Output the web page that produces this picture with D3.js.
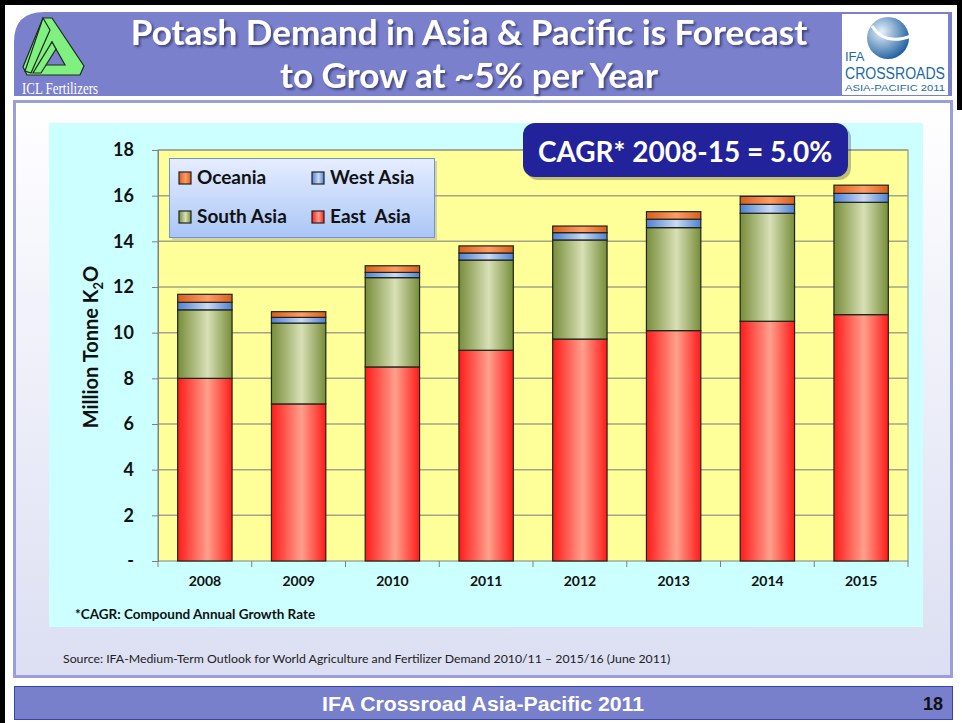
<!DOCTYPE html>
<html lang="en">
<head>
<meta charset="utf-8">
<script src="https://d3js.org/d3.v7.min.js"></script>
<title>Potash Demand in Asia &amp; Pacific</title>
<style>
  body { margin: 0; background: #fff; }
  svg { display: block; }
</style>
</head>
<body>
<svg width="962" height="723"></svg>
<script>
// data (million tonne K2O)
var years = ["2008", "2009", "2010", "2011", "2012", "2013", "2014", "2015"];
var eastAsia  = [8.0, 6.88, 8.5, 9.23, 9.72, 10.09, 10.5, 10.79];
var southAsia = [3.0, 3.54, 3.91, 3.95, 4.34, 4.51, 4.73, 4.92];
var westAsia  = [0.33, 0.25, 0.23, 0.31, 0.32, 0.37, 0.39, 0.39];
var oceania   = [0.35, 0.25, 0.29, 0.31, 0.29, 0.33, 0.35, 0.36];
var seriesNames = ["East  Asia", "South Asia", "West Asia", "Oceania"];
var yTicks = [0, 2, 4, 6, 8, 10, 12, 14, 16, 18];

var svg = d3.select("svg");
var font = "Lato, 'Open Sans', sans-serif";

// ---- slide frame ----
svg.append("rect").attr("x", 0).attr("y", 0).attr("width", 5).attr("height", 723).attr("fill", "#000");
svg.append("rect").attr("x", 0).attr("y", 0).attr("width", 962).attr("height", 5).attr("fill", "#000");
svg.append("rect").attr("x", 957).attr("y", 0).attr("width", 5).attr("height", 110).attr("fill", "#000");

var defs = svg.append("defs");
var shadow = defs.append("filter").attr("id", "shadow").attr("x", "-10%").attr("y", "-30%").attr("width", "120%").attr("height", "160%");
shadow.append("feDropShadow").attr("dx", 2).attr("dy", 2).attr("stdDeviation", 1)
    .attr("flood-color", "#222244").attr("flood-opacity", 0.6);

// title banner
svg.append("path")
    .attr("d", "M14,96 L14,42 Q14,12 44,12 L952,12 L952,96 Z")
    .attr("fill", "#7a80cc");
svg.append("rect").attr("x", 5).attr("y", 96).attr("width", 250).attr("height", 4).attr("fill", "#fff");

// ICL logo
var logo = svg.append("g").attr("stroke", "#1c2a1c").attr("stroke-width", 1.2).attr("fill", "#80f080");
logo.append("path").attr("fill-rule", "evenodd")
    .attr("d", "M43,18 L52,18 L84,66 L80,75 L27,75 L23,67 Z M52,42 L65,65 L40,65 Z");
logo.append("path").attr("d", "M43,18 L50,30 L31,73 L25,71 Z");
logo.append("path").attr("d", "M52,42 L56,49 L41,73 L33,73 Z");
svg.append("text").attr("x", 22).attr("y", 94)
    .attr("fill", "#fff").style("font", "17px 'Liberation Serif', serif")
    .attr("textLength", 76).attr("lengthAdjust", "spacingAndGlyphs")
    .text("ICL Fertilizers");

// title with shadow
var titleLines = ["Potash Demand in Asia & Pacific is Forecast", "to Grow at ~5% per Year"];
svg.append("g").selectAll("text").data(titleLines).enter().append("text")
    .attr("x", 469).attr("y", function(d, i) { return 45 + i * 43; })
    .attr("text-anchor", "middle").attr("fill", "#fff").attr("filter", "url(#shadow)")
    .style("font", "bold 35px " + font).text(function(d) { return d; });

// IFA logo box
svg.append("rect").attr("x", 842).attr("y", 14).attr("width", 106).attr("height", 81).attr("fill", "#fff");
var globe = defs.append("radialGradient").attr("id", "globe").attr("cx", "35%").attr("cy", "35%").attr("r", "70%");
globe.append("stop").attr("offset", 0).attr("stop-color", "#e8f2fb");
globe.append("stop").attr("offset", 1).attr("stop-color", "#1f5f9f");
svg.append("circle").attr("cx", 888).attr("cy", 38).attr("r", 21).attr("fill", "url(#globe)");
svg.append("path").attr("d", "M872,26 Q885,46 911,36").attr("fill", "none").attr("stroke", "#fff").attr("stroke-width", 3);
svg.append("text").attr("x", 845).attr("y", 61).attr("fill", "#1b6aa8")
    .style("font", "13px 'Liberation Sans Narrow', 'Liberation Sans', sans-serif").text("IFA");
svg.append("text").attr("x", 845).attr("y", 79).attr("fill", "#1b6aa8")
    .attr("textLength", 100).attr("lengthAdjust", "spacingAndGlyphs")
    .style("font", "16px 'Liberation Sans Narrow', 'Liberation Sans', sans-serif").text("CROSSROADS");
svg.append("text").attr("x", 845).attr("y", 91).attr("fill", "#1b6aa8")
    .attr("textLength", 100).attr("lengthAdjust", "spacingAndGlyphs")
    .style("font", "8.5px 'Liberation Sans', sans-serif").text("ASIA-PACIFIC 2011");

// content panel
var panelGrad = defs.append("linearGradient").attr("id", "panel").attr("x1", 0).attr("y1", 0).attr("x2", 0).attr("y2", 1);
panelGrad.append("stop").attr("offset", 0).attr("stop-color", "#ffffff");
panelGrad.append("stop").attr("offset", 0.35).attr("stop-color", "#f2f3fa");
panelGrad.append("stop").attr("offset", 1).attr("stop-color", "#dcdff2");
svg.append("rect").attr("x", 14.5).attr("y", 101.5).attr("width", 937).attr("height", 575)
    .attr("fill", "url(#panel)").attr("stroke", "#9a9edd").attr("stroke-width", 3);

// cyan chart area
svg.append("rect").attr("x", 49).attr("y", 123).attr("width", 874).attr("height", 504).attr("fill", "#ccffff");

// ---- chart ----
var x = d3.scaleBand().domain(years).range([158, 908]).paddingInner(0.42).paddingOuter(0.21);
var y = d3.scaleLinear().domain([0, 18]).range([561, 150]);

svg.append("rect").attr("x", 158).attr("y", 150).attr("width", 750).attr("height", 411)
    .attr("fill", "#ffff99").attr("stroke", "#808080");

svg.append("g").selectAll("line").data(yTicks.slice(1)).enter().append("line")
    .attr("x1", 158).attr("x2", 908)
    .attr("y1", function(d) { return y(d); }).attr("y2", function(d) { return y(d); })
    .attr("stroke", "#a3a38c").attr("stroke-width", 1.5);

var yAxis = svg.append("g").attr("transform", "translate(158,0)")
    .call(d3.axisLeft(y).tickValues(yTicks).tickSize(6).tickPadding(18)
      .tickFormat(function(d) { return d === 0 ? "-" : d; }));
yAxis.select(".domain").attr("stroke", "#808080");
yAxis.selectAll(".tick line").attr("stroke", "#808080");
yAxis.selectAll("text").style("font", "bold 18px " + font).attr("fill", "#111");

var xAxis = svg.append("g").attr("transform", "translate(0,561)")
    .call(d3.axisBottom(x).tickSize(0).tickPadding(15));
xAxis.select(".domain").remove();
xAxis.selectAll("text").style("font", "bold 14px " + font).attr("fill", "#111");
svg.append("g").selectAll("line").data(d3.range(years.length + 1)).enter().append("line")
    .attr("x1", function(i) { return 158 + i * x.step(); })
    .attr("x2", function(i) { return 158 + i * x.step(); })
    .attr("y1", 561).attr("y2", 567).attr("stroke", "#808080");

// y label with subscript
var yl = svg.append("text").attr("transform", "translate(98,347) rotate(-90)")
    .attr("text-anchor", "middle").attr("fill", "#111").style("font", "bold 20px " + font);
yl.append("tspan").text("Million Tonne K");
yl.append("tspan").attr("dy", 5).style("font-size", "13px").text("2");
yl.append("tspan").attr("dy", -5).text("O");

// bar gradients
var colours = {
  "East  Asia": ["#ff1a1a", "#ffa08c"],
  "South Asia": ["#778d3a", "#d8e0b6"],
  "West Asia":  ["#4f80d2", "#c9daf4"],
  "Oceania":    ["#d65f1e", "#ff9c66"]
};
seriesNames.forEach(function(name, i) {
  var g = defs.append("linearGradient").attr("id", "g" + i).attr("x1", 0).attr("x2", 1).attr("y1", 0).attr("y2", 0);
  g.append("stop").attr("offset", 0).attr("stop-color", colours[name][0]);
  g.append("stop").attr("offset", 0.55).attr("stop-color", colours[name][1]);
  g.append("stop").attr("offset", 1).attr("stop-color", colours[name][0]);
});

var table = years.map(function(yr, i) {
  return { year: yr, "East  Asia": eastAsia[i], "South Asia": southAsia[i], "West Asia": westAsia[i], "Oceania": oceania[i] };
});
var stacked = d3.stack().keys(seriesNames)(table);

svg.append("g").selectAll("g").data(stacked).enter().append("g")
    .attr("fill", function(d, i) { return "url(#g" + i + ")"; })
  .selectAll("rect").data(function(d) { return d; }).enter().append("rect")
    .attr("x", function(d) { return x(d.data.year); })
    .attr("y", function(d) { return y(d[1]); })
    .attr("width", x.bandwidth())
    .attr("height", function(d) { return y(d[0]) - y(d[1]); })
    .attr("stroke", "#1e2418").attr("stroke-width", 1.2);

// legend
var lg = defs.append("linearGradient").attr("id", "legbg").attr("x1", 0).attr("x2", 0).attr("y1", 0).attr("y2", 1);
lg.append("stop").attr("offset", 0).attr("stop-color", "#e6edff");
lg.append("stop").attr("offset", 1).attr("stop-color", "#aac6f6");
svg.append("rect").attr("x", 172).attr("y", 161).attr("width", 265).attr("height", 79).attr("fill", "#999").attr("opacity", 0.4);
svg.append("rect").attr("x", 169.5).attr("y", 158.5).attr("width", 265).attr("height", 79)
    .attr("fill", "url(#legbg)").attr("stroke", "#6f94d6");

var legendItems = [
  { name: "Oceania", col: 0, row: 0 },
  { name: "West Asia", col: 1, row: 0 },
  { name: "South Asia", col: 0, row: 1 },
  { name: "East  Asia", col: 1, row: 1 }
];
var li = svg.append("g").selectAll("g").data(legendItems).enter().append("g")
    .attr("transform", function(d) { return "translate(" + (179 + d.col * 133) + "," + (178 + d.row * 39) + ")"; });
li.append("rect").attr("x", 0).attr("y", -6).attr("width", 12).attr("height", 12)
    .attr("fill", function(d) { return "url(#g" + seriesNames.indexOf(d.name) + ")"; })
    .attr("stroke", "#222").attr("stroke-width", 1.2);
li.append("text").attr("x", 18).attr("y", 6).attr("fill", "#111")
    .style("font", "bold 19px " + font).style("white-space", "pre")
    .attr("xml:space", "preserve")
    .text(function(d) { return d.name; });

// CAGR callout
svg.append("rect").attr("x", 526).attr("y", 126).attr("width", 325).attr("height", 54).attr("rx", 12)
    .attr("fill", "#000").attr("opacity", 0.25);
svg.append("rect").attr("x", 523).attr("y", 123).attr("width", 325).attr("height", 54).attr("rx", 12)
    .attr("fill", "#22229a");
svg.append("text").attr("x", 685).attr("y", 162).attr("text-anchor", "middle").attr("fill", "#fff")
    .style("font", "bold 28px " + font).text("CAGR* 2008-15 = 5.0%");

// notes
svg.append("text").attr("x", 75).attr("y", 619).attr("fill", "#111")
    .style("font", "bold 13.5px " + font).text("*CAGR: Compound Annual Growth Rate");
svg.append("text").attr("x", 63).attr("y", 663).attr("fill", "#222")
    .style("font", "12.3px " + font)
    .text("Source: IFA-Medium-Term Outlook for World Agriculture and Fertilizer Demand 2010/11 \u2013 2015/16 (June 2011)");

// footer
svg.append("rect").attr("x", 14.5).attr("y", 686.5).attr("width", 938).attr("height", 33)
    .attr("fill", "#7880cc").attr("stroke", "#3344bb");
svg.append("text").attr("x", 483).attr("y", 711).attr("text-anchor", "middle").attr("fill", "#fff")
    .attr("textLength", 322).attr("lengthAdjust", "spacingAndGlyphs")
    .style("font", "bold 20px 'Liberation Sans', Arial, sans-serif").text("IFA Crossroad Asia-Pacific 2011");
svg.append("text").attr("x", 943).attr("y", 710).attr("text-anchor", "end").attr("fill", "#111")
    .style("font", "bold 18px 'Liberation Sans Narrow', 'Liberation Sans', sans-serif").text("18");
</script>
</body>
</html>
